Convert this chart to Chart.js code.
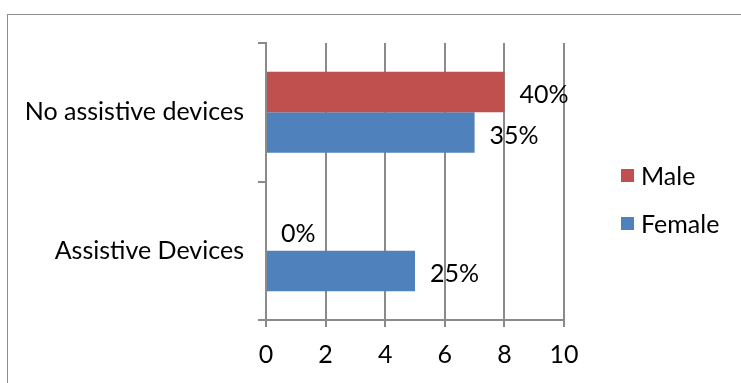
<!DOCTYPE html>
<html>
<head>
<meta charset="utf-8">
<script src="https://cdn.jsdelivr.net/npm/chart.js@4.4.0/dist/chart.umd.min.js"></script>
<style>
  html, body { margin: 0; padding: 0; background: #fff; }
  #wrap { position: relative; width: 741px; height: 383px; overflow: hidden; }
  #frame { position: absolute; left: 7px; top: 14px; width: 760px; height: 400px; border: 1px solid #8c8c8c; }
  canvas { position: absolute; left: 0; top: 0; }
</style>
</head>
<body>
<div id="wrap">
  <div id="frame"></div>
  <canvas id="chart" width="741" height="383"></canvas>
</div>
<script>
// chart data
const categories = ['No assistive devices', 'Assistive Devices'];
const maleValues = [8, 0];
const femaleValues = [7, 5];
const maleLabels = ['40%', '0%'];
const femaleLabels = ['35%', '25%'];
const xTicks = [0, 2, 4, 6, 8, 10];

const FONT = 'Lato';
const SIZE = 25;
const GRID = '#8a8a8a';

// percentage labels drawn right of each bar
const barLabels = {
  id: 'barLabels',
  afterDatasetsDraw(chart) {
    const ctx = chart.ctx;
    ctx.save();
    ctx.font = SIZE + 'px ' + FONT;
    ctx.fillStyle = '#000';
    ctx.textAlign = 'left';
    ctx.textBaseline = 'middle';
    chart.data.datasets.forEach((ds, i) => {
      chart.getDatasetMeta(i).data.forEach((bar, j) => {
        ctx.fillText(ds.pctLabels[j], bar.x + 15, bar.y + 3);
      });
    });
    ctx.restore();
  }
};

// legend to the right of the plot, like the Excel one
const sideLegend = {
  id: 'sideLegend',
  afterDraw(chart) {
    const { ctx, chartArea } = chart;
    const x = chartArea.right + 57;
    const midY = (chartArea.top + chartArea.bottom) / 2 + 18;
    ctx.save();
    ctx.font = SIZE + 'px ' + FONT;
    ctx.textAlign = 'left';
    ctx.textBaseline = 'middle';
    chart.data.datasets.forEach((ds, i) => {
      const y = midY + (i - 0.5) * 48;
      ctx.fillStyle = ds.backgroundColor;
      ctx.fillRect(x, y - 6.5, 13, 13);
      ctx.fillStyle = '#000';
      ctx.fillText(ds.label, x + 20, y + 1);
    });
    ctx.restore();
  }
};

new Chart(document.getElementById('chart'), {
  type: 'bar',
  data: {
    labels: categories,
    datasets: [
      { label: 'Male', data: maleValues, pctLabels: maleLabels, backgroundColor: '#C0504D' },
      { label: 'Female', data: femaleValues, pctLabels: femaleLabels, backgroundColor: '#4F81BD' }
    ]
  },
  options: {
    indexAxis: 'y',
    responsive: false,
    animation: false,
    categoryPercentage: 0.586,
    barPercentage: 1,
    layout: { padding: { top: 43, bottom: 0, left: 0, right: 177 } },
    plugins: {
      tooltip: { enabled: false },
      legend: { display: false }
    },
    scales: {
      x: {
        min: 0,
        max: 10,
        afterBuildTicks: s => { s.ticks = xTicks.map(v => ({ value: v })); },
        ticks: { color: '#000', padding: 13, font: { family: FONT, size: SIZE } },
        grid: { color: GRID, lineWidth: 2, tickLength: 7 },
        border: { color: GRID, width: 2 }
      },
      y: {
        afterFit: s => { s.width = 266; },
        ticks: { color: '#000', padding: 14, font: { family: FONT, size: SIZE } },
        grid: { offset: true, drawOnChartArea: false, color: GRID, lineWidth: 2, tickLength: 8 },
        border: { color: GRID, width: 2 }
      }
    }
  },
  plugins: [barLabels, sideLegend]
});
</script>
</body>
</html>
